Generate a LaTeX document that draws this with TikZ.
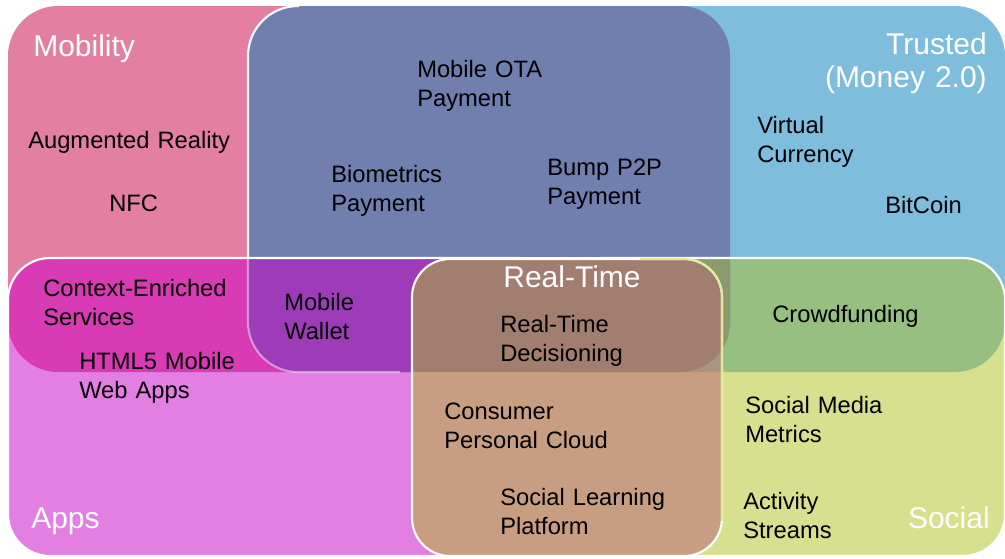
\documentclass[tikz,border=0pt]{standalone}
\usepackage{fontspec}
\setmainfont{Liberation Sans}
\definecolor{cMob}{HTML}{E37FA1}
\definecolor{cTru}{HTML}{7FBDDC}
\definecolor{cApp}{HTML}{E37FE2}
\definecolor{cSoc}{HTML}{D6E08F}
\definecolor{cCtx}{HTML}{D83BB4}
\definecolor{cCrw}{HTML}{97BF81}
\definecolor{cPay}{HTML}{717FAF}
\definecolor{cWal}{HTML}{9D3BB8}
\definecolor{cPS}{HTML}{8C9B6E}
\definecolor{cRT}{HTML}{C89E82}
\definecolor{cRTP}{HTML}{A27E70}
\definecolor{cRTT}{HTML}{A89581}
\definecolor{cEdge}{HTML}{E2EA9A}
\def\pathM{[rounded corners=37.5pt] (8,6) rectangle (500,372)}
\def\pathT{[rounded corners=37.5pt] (500,6) rectangle (1005,372)}
\def\pathA{[rounded corners=31.5pt] (8,258) rectangle (560,556)}
\def\pathS{[rounded corners=31.5pt] (560,258) rectangle (1005,556)}
\def\pathP{[rounded corners=37.5pt] (248,6) rectangle (730,372)}
\def\pathR{[rounded corners=28.5pt] (412,259) rectangle (722,556)}
\begin{document}
\begin{tikzpicture}[x=0.75pt,y=-0.75pt,
  lbl/.style={anchor=base west, inner sep=0pt, text width=160pt, align=left,
    font=\fontsize{17.8}{21.75}\selectfont, text=black},
  ttl/.style={inner sep=0pt, font=\fontsize{22.5}{24.75}\selectfont, text=white},
  edge/.style={line width=1.6pt}]
\useasboundingbox (0,0) rectangle (1005,558);
\fill[white] (0,0) rectangle (1005,558);
% quadrant boxes
\fill[cMob] \pathM;
\fill[cTru] \pathT;
\fill[cApp] \pathA;
\fill[cSoc] \pathS;
\begin{scope}
  \clip \pathM;
  \fill[cCtx] \pathA;
\end{scope}
\begin{scope}
  \clip \pathT;
  \fill[cCrw] \pathS;
\end{scope}
% payment box
\fill[cPay] \pathP;
\begin{scope}
  \clip \pathP;
  \fill[cWal] \pathA;
  \fill[cPS] \pathS;
\end{scope}
% white borders of the lower boxes
\draw[white, edge] \pathA;
\draw[white, edge] \pathS;
\draw[white, edge] (300,258) -- (960,258);
% payment left border
\begin{scope}
  \clip (0,0) rectangle (299,258);
  \draw[white, edge] \pathP;
\end{scope}
\begin{scope}
  \clip (0,258) rectangle (400,558);
  \draw[white, edge, opacity=0.45] \pathP;
\end{scope}
% real-time box
\fill[cRT] \pathR;
\begin{scope}
  \clip \pathR;
  \clip \pathT;
  \fill[cRTT] \pathS;
\end{scope}
\begin{scope}
  \clip \pathR;
  \fill[cRTP] \pathP;
\end{scope}
\draw[white, edge] \pathR;
\begin{scope}
  \clip (640,0) rectangle (1005,520);
  \draw[cEdge, edge] \pathR;
\end{scope}
% titles
\node[ttl, anchor=base west] (mobility) at (33,56) {Mobility};
\node[ttl, anchor=base east, text width=200pt, align=right] (trusted) at (987,54) {Trusted\\(Money 2.0)};
\node[ttl, anchor=base west] (apps) at (31,528) {Apps};
\node[ttl, anchor=base east] (social) at (990,528) {Social};
\node[ttl, anchor=base] (realtime) at (572,287) {Real-Time};
% items
\node[lbl] (ar) at (28,148) {Augmented Reality};
\node[lbl] (nfc) at (109,211) {NFC};
\node[lbl] (ota) at (417,77) {Mobile OTA\\Payment};
\node[lbl] (bio) at (331,182) {Biometrics\\Payment};
\node[lbl] (bump) at (547,175) {Bump P2P\\Payment};
\node[lbl] (vc) at (757,133) {Virtual\\Currency};
\node[lbl] (bitcoin) at (885,213) {BitCoin};
\node[lbl] (ctx) at (43,296) {Context-Enriched\\Services};
\node[lbl] (html) at (79,369) {HTML5 Mobile\\Web Apps};
\node[lbl] (wallet) at (284,310) {Mobile\\Wallet};
\node[lbl] (rtd) at (500,332) {Real-Time\\Decisioning};
\node[lbl] (cloud) at (444,419) {Consumer\\Personal Cloud};
\node[lbl] (slp) at (500,505) {Social Learning\\Platform};
\node[lbl] (crowd) at (772,322) {Crowdfunding};
\node[lbl] (smm) at (745,413) {Social Media\\Metrics};
\node[lbl] (act) at (743,509) {Activity\\Streams};
\end{tikzpicture}
\end{document}
